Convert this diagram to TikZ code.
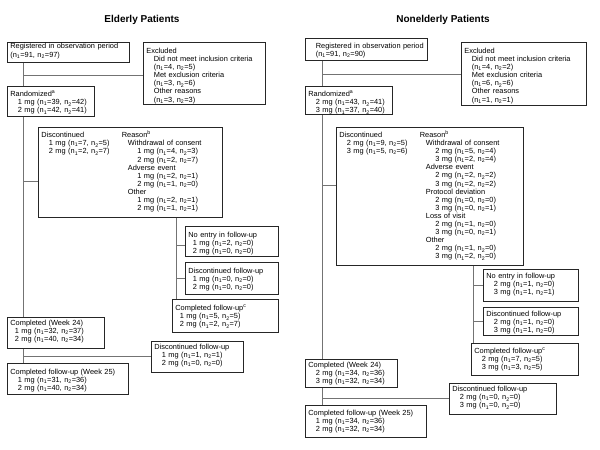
\documentclass[tikz,border=0pt]{standalone}
\usepackage{fontspec}
\setmainfont{Liberation Sans}
\usetikzlibrary{positioning}
\newcommand{\nvals}[2]{(n\textsubscript{1}=#1, n\textsubscript{2}=#2)}
\newcommand{\levelone}{\hspace*{7.5pt}}
\newcommand{\levelsmall}{\hspace*{4.5pt}}
\newcommand{\levelhalf}{\hspace*{6pt}}
\newcommand{\leveltwo}{\hspace*{15.5pt}}
\colorlet{boxline}{black!85}
\colorlet{linkline}{black!55}

\begin{document}
\begin{tikzpicture}[x=1pt,y=-1pt]
\tikzset{flow/.style={rectangle, draw=boxline, line width=0.8pt, anchor=north west, align=left, inner xsep=3pt, inner ysep=0pt, font=\fontsize{7.4}{8.1}\selectfont}}
\tikzset{boxdim/.style 2 args={text height=#1pt, text depth=#2pt}}
\tikzset{link/.style={draw=linkline, line width=0.7pt}}
\tikzset{heading/.style={font=\fontsize{10}{12}\selectfont\bfseries}}
\useasboundingbox (0,0) rectangle (600,450);

% elderly patients
\node[heading] (titleL) at (142,20) {Elderly Patients};
\node[flow, text width=116pt, boxdim={6.5}{13.5}] (regL) at (7,42) {Registered in observation period\\\nvals{91}{97}};
\node[flow, text width=116pt, boxdim={11}{51}] (exclL) at (143,42) {Excluded\\
\levelone Did not meet inclusion criteria\\\levelone\nvals{4}{5}\\
\levelone Met exclusion criteria\\\levelone\nvals{3}{6}\\
\levelone Other reasons\\\levelone\nvals{3}{3}};
\node[flow, text width=81pt, boxdim={10.3}{19.7}] (randL) at (7,86) {Randomized\textsuperscript{a}\\
\levelone 1 mg \nvals{39}{42}\\\levelone 2 mg \nvals{42}{41}};
\node[flow, text width=178pt, boxdim={10.3}{79.7}] (discL) at (38,127) {\begin{tabular}[t]{@{}p{80.5pt}@{}l@{}}
Discontinued & Reason\textsuperscript{b}\\
\levelone 1 mg \nvals{7}{5} & \levelhalf Withdrawal of consent\\
\levelone 2 mg \nvals{2}{7} & \leveltwo 1 mg \nvals{4}{3}\\
 & \leveltwo 2 mg \nvals{2}{7}\\
 & \levelhalf Adverse event\\
 & \leveltwo 1 mg \nvals{2}{1}\\
 & \leveltwo 2 mg \nvals{1}{0}\\
 & \levelhalf Other\\
 & \leveltwo 1 mg \nvals{2}{1}\\
 & \leveltwo 2 mg \nvals{1}{1}
\end{tabular}};
\node[flow, text width=87pt, boxdim={11}{19}] (noentL) at (185,226) {No entry in follow-up\\
\levelsmall 1 mg \nvals{2}{0}\\\levelsmall 2 mg \nvals{0}{0}};
\node[flow, text width=87pt, boxdim={11}{21}] (dfuL) at (185,262) {Discontinued follow-up\\
\levelsmall 1 mg \nvals{0}{0}\\\levelsmall 2 mg \nvals{0}{0}};
\node[flow, text width=100pt, boxdim={11.3}{21.7}] (cfuL) at (172,299) {Completed follow-up\textsuperscript{c}\\
\levelsmall 1 mg \nvals{5}{5}\\\levelsmall 2 mg \nvals{2}{7}};
\node[flow, text width=91pt, boxdim={7.7}{23.3}] (compL) at (7,317) {Completed (Week 24)\\
\levelsmall 1 mg \nvals{32}{37}\\\levelsmall 2 mg \nvals{40}{34}};
\node[flow, text width=86pt, boxdim={7.7}{23.3}] (dfu2L) at (151,341) {Discontinued follow-up\\
\levelone 1 mg \nvals{1}{1}\\\levelone 2 mg \nvals{0}{0}};
\node[flow, text width=115pt, boxdim={10.7}{20.3}] (cfu2L) at (7,363) {Completed follow-up (Week 25)\\
\levelone 1 mg \nvals{31}{36}\\\levelone 2 mg \nvals{40}{34}};

\coordinate (jL1) at (23,75);
\coordinate (jL2) at (23,181);
\coordinate (jL3) at (176,245);
\coordinate (jL4) at (176,278);
\coordinate (jL5) at (23,356);
\draw[link] (jL1 |- regL.south) -- (jL1 |- randL.north);
\draw[link] (jL1) -- (jL1 -| exclL.west);
\draw[link] (jL2 |- randL.south) -- (jL2 |- compL.north);
\draw[link] (jL2) -- (jL2 -| discL.west);
\draw[link] (jL3 |- discL.south) -- (jL3 |- cfuL.north);
\draw[link] (jL3) -- (jL3 -| noentL.west);
\draw[link] (jL4) -- (jL4 -| dfuL.west);
\draw[link] (jL5 |- compL.south) -- (jL5 |- cfu2L.north);
\draw[link] (jL5) -- (jL5 -| dfu2L.west);

% nonelderly patients
\node[heading] (titleR) at (443,20) {Nonelderly Patients};
\node[flow, text width=116pt, boxdim={10}{12}] (regR) at (305,38) {\levelone Registered in observation period\\\levelone\nvals{91}{90}};
\node[flow, text width=119pt, boxdim={11}{52}] (exclR) at (461,42) {Excluded\\
\levelone Did not meet inclusion criteria\\\levelone\nvals{4}{2}\\
\levelone Met exclusion criteria\\\levelone\nvals{6}{6}\\
\levelone Other reasons\\\levelone\nvals{1}{1}};
\node[flow, text width=81pt, boxdim={10.3}{17.7}] (randR) at (305,86) {Randomized\textsuperscript{a}\\
\levelone 2 mg \nvals{43}{41}\\\levelone 3 mg \nvals{37}{40}};
\node[flow, text width=181pt, boxdim={10}{128}] (discR) at (336,127) {\begin{tabular}[t]{@{}p{80.5pt}@{}l@{}}
Discontinued & Reason\textsuperscript{b}\\
\levelone 2 mg \nvals{9}{5} & \levelhalf Withdrawal of consent\\
\levelone 3 mg \nvals{5}{6} & \leveltwo 2 mg \nvals{5}{4}\\
 & \leveltwo 3 mg \nvals{2}{4}\\
 & \levelhalf Adverse event\\
 & \leveltwo 2 mg \nvals{2}{2}\\
 & \leveltwo 3 mg \nvals{2}{2}\\
 & \levelhalf Protocol deviation\\
 & \leveltwo 2 mg \nvals{0}{0}\\
 & \leveltwo 3 mg \nvals{0}{1}\\
 & \levelhalf Loss of visit\\
 & \leveltwo 2 mg \nvals{1}{0}\\
 & \leveltwo 3 mg \nvals{0}{1}\\
 & \levelhalf Other\\
 & \leveltwo 2 mg \nvals{1}{0}\\
 & \leveltwo 3 mg \nvals{2}{0}
\end{tabular}};
\node[flow, text width=89pt, boxdim={8.7}{23.3}] (noentR) at (483,269) {No entry in follow-up\\
\levelone 2 mg \nvals{1}{0}\\\levelone 3 mg \nvals{1}{1}};
\node[flow, text width=89pt, boxdim={9}{19}] (dfuR) at (483,307) {Discontinued follow-up\\
\levelone 2 mg \nvals{1}{0}\\\levelone 3 mg \nvals{1}{0}};
\node[flow, text width=101pt, boxdim={10}{22}] (cfuR) at (471,343) {Completed follow-up\textsuperscript{c}\\
\levelone 2 mg \nvals{7}{5}\\\levelone 3 mg \nvals{3}{5}};
\node[flow, text width=86pt, boxdim={8}{20}] (compR) at (305,359) {Completed (Week 24)\\
\levelone 2 mg \nvals{34}{36}\\\levelone 3 mg \nvals{32}{34}};
\node[flow, text width=101pt, boxdim={8.3}{22.7}] (dfu2R) at (449,383) {Discontinued follow-up\\
\levelone 2 mg \nvals{0}{0}\\\levelone 3 mg \nvals{0}{0}};
\node[flow, text width=115pt, boxdim={9.7}{22.3}] (cfu2R) at (305,405) {Completed follow-up (Week 25)\\
\levelone 1 mg \nvals{34}{36}\\\levelone 2 mg \nvals{32}{34}};

\coordinate (jR1) at (322,74);
\coordinate (jR2) at (322,185);
\coordinate (jR3) at (473,285);
\coordinate (jR4) at (473,321);
\coordinate (jR5) at (322,398);
\draw[link] (jR1 |- regR.south) -- (jR1 |- randR.north);
\draw[link] (jR1) -- (jR1 -| exclR.west);
\draw[link] (jR2 |- randR.south) -- (jR2 |- compR.north);
\draw[link] (jR2) -- (jR2 -| discR.west);
\draw[link] (jR3 |- discR.south) -- (jR3 |- cfuR.north);
\draw[link] (jR3) -- (jR3 -| noentR.west);
\draw[link] (jR4) -- (jR4 -| dfuR.west);
\draw[link] (jR5 |- compR.south) -- (jR5 |- cfu2R.north);
\draw[link] (jR5) -- (jR5 -| dfu2R.west);
\end{tikzpicture}
\end{document}
